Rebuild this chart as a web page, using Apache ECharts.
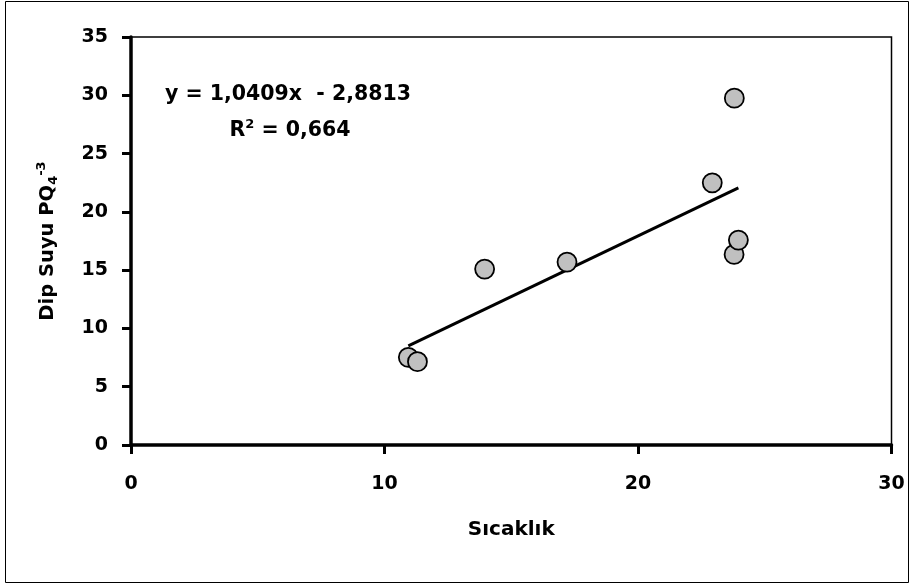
<!DOCTYPE html>
<html>
<head>
<meta charset="utf-8">
<script src="https://cdn.jsdelivr.net/npm/echarts@6/dist/echarts.min.js"></script>
<style>html,body{margin:0;padding:0;background:#fff;}#c{width:917px;height:585px;}</style>
</head>
<body>
<div id="c"></div>
<script>
var sicaklik = [10.94, 11.30, 13.95, 17.2, 22.93, 23.8, 23.79, 23.96];
var dipSuyu  = [7.52, 7.15, 15.09, 15.69, 22.49, 29.75, 16.35, 17.58];
var slope = 1.0409;
var intercept = -2.8813;
var equationText = 'y = 1,0409x  - 2,8813';
var r2Text = '0,664';
var xTicks = [0, 10, 20, 30];
var yTicks = [0, 5, 10, 15, 20, 25, 30, 35];

var FONT = 'DejaVu Sans';
var points = sicaklik.map(function (x, i) { return [x, dipSuyu[i]]; });
var xmin = Math.min.apply(null, sicaklik), xmax = Math.max.apply(null, sicaklik);
var trend = [[xmin, slope * xmin + intercept], [xmax, slope * xmax + intercept]];

var chart = echarts.init(document.getElementById('c'), null, {renderer: 'canvas'});
chart.setOption({
  backgroundColor: '#fff',
  animation: false,
  grid: {left: 131, top: 37, right: 25.5, bottom: 140, show: true, borderColor: '#000', borderWidth: 1.5, backgroundColor: 'transparent'},
  xAxis: {
    type: 'value', min: xTicks[0], max: xTicks[xTicks.length - 1], interval: 10,
    name: 'Sıcaklık', nameLocation: 'middle', nameGap: 75,
    nameTextStyle: {fontFamily: FONT, fontWeight: 'bold', fontSize: 20, color: '#000'},
    axisLine: {show: true, lineStyle: {color: '#000', width: 3.5}},
    axisTick: {show: true, length: 9, lineStyle: {color: '#000', width: 3}},
    axisLabel: {margin: 30, fontFamily: FONT, fontWeight: 'bold', fontSize: 19, color: '#000'},
    splitLine: {show: false}
  },
  yAxis: {
    type: 'value', min: yTicks[0], max: yTicks[yTicks.length - 1], interval: 5,
    name: 'Dip Suyu PQ{sub|4}{sup|-3}', nameLocation: 'middle', nameGap: 71, nameRotate: 90,
    nameTextStyle: {fontFamily: FONT, fontWeight: 'bold', fontSize: 19.5, color: '#000',
      rich: {
        sub: {fontFamily: FONT, fontWeight: 'bold', fontSize: 13, color: '#000', verticalAlign: 'bottom', padding: [10, 0, 0, 0]},
        sup: {fontFamily: FONT, fontWeight: 'bold', fontSize: 13, color: '#000', verticalAlign: 'top', padding: [0, 0, 12, 0]}
      }},
    axisLine: {show: true, lineStyle: {color: '#000', width: 3.5}},
    axisTick: {show: true, length: 9, lineStyle: {color: '#000', width: 3}},
    axisLabel: {margin: 23, fontFamily: FONT, fontWeight: 'bold', fontSize: 19, color: '#000'},
    splitLine: {show: false}
  },
  series: [
    {
      type: 'line', data: trend, symbol: 'none', z: 2,
      lineStyle: {color: '#000', width: 3}
    },
    {
      type: 'scatter', data: points, symbol: 'circle', symbolSize: 19, z: 3,
      itemStyle: {color: '#c0c0c0', borderColor: '#000', borderWidth: 1.8, opacity: 1}
    }
  ],
  graphic: [
    {type: 'rect', shape: {x: 5.5, y: 1.5, width: 903, height: 581}, style: {fill: 'none', stroke: '#000', lineWidth: 1}, silent: true, z: -10},
    {type: 'text', x: 288, y: 95, style: {text: equationText, fontFamily: FONT, fontWeight: 'bold', fontSize: 20.5, fill: '#000', textAlign: 'center', textVerticalAlign: 'middle'}},
    {type: 'text', x: 290, y: 131, style: {
      text: 'R{sup|2} = ' + r2Text, fontFamily: FONT, fontWeight: 'bold', fontSize: 20.5, fill: '#000', align: 'center', verticalAlign: 'middle',
      rich: {sup: {fontFamily: FONT, fontWeight: 'bold', fontSize: 13, fill: '#000', padding: [0, 0, 12, 0]}}
    }}
  ]
});
</script>
</body>
</html>
